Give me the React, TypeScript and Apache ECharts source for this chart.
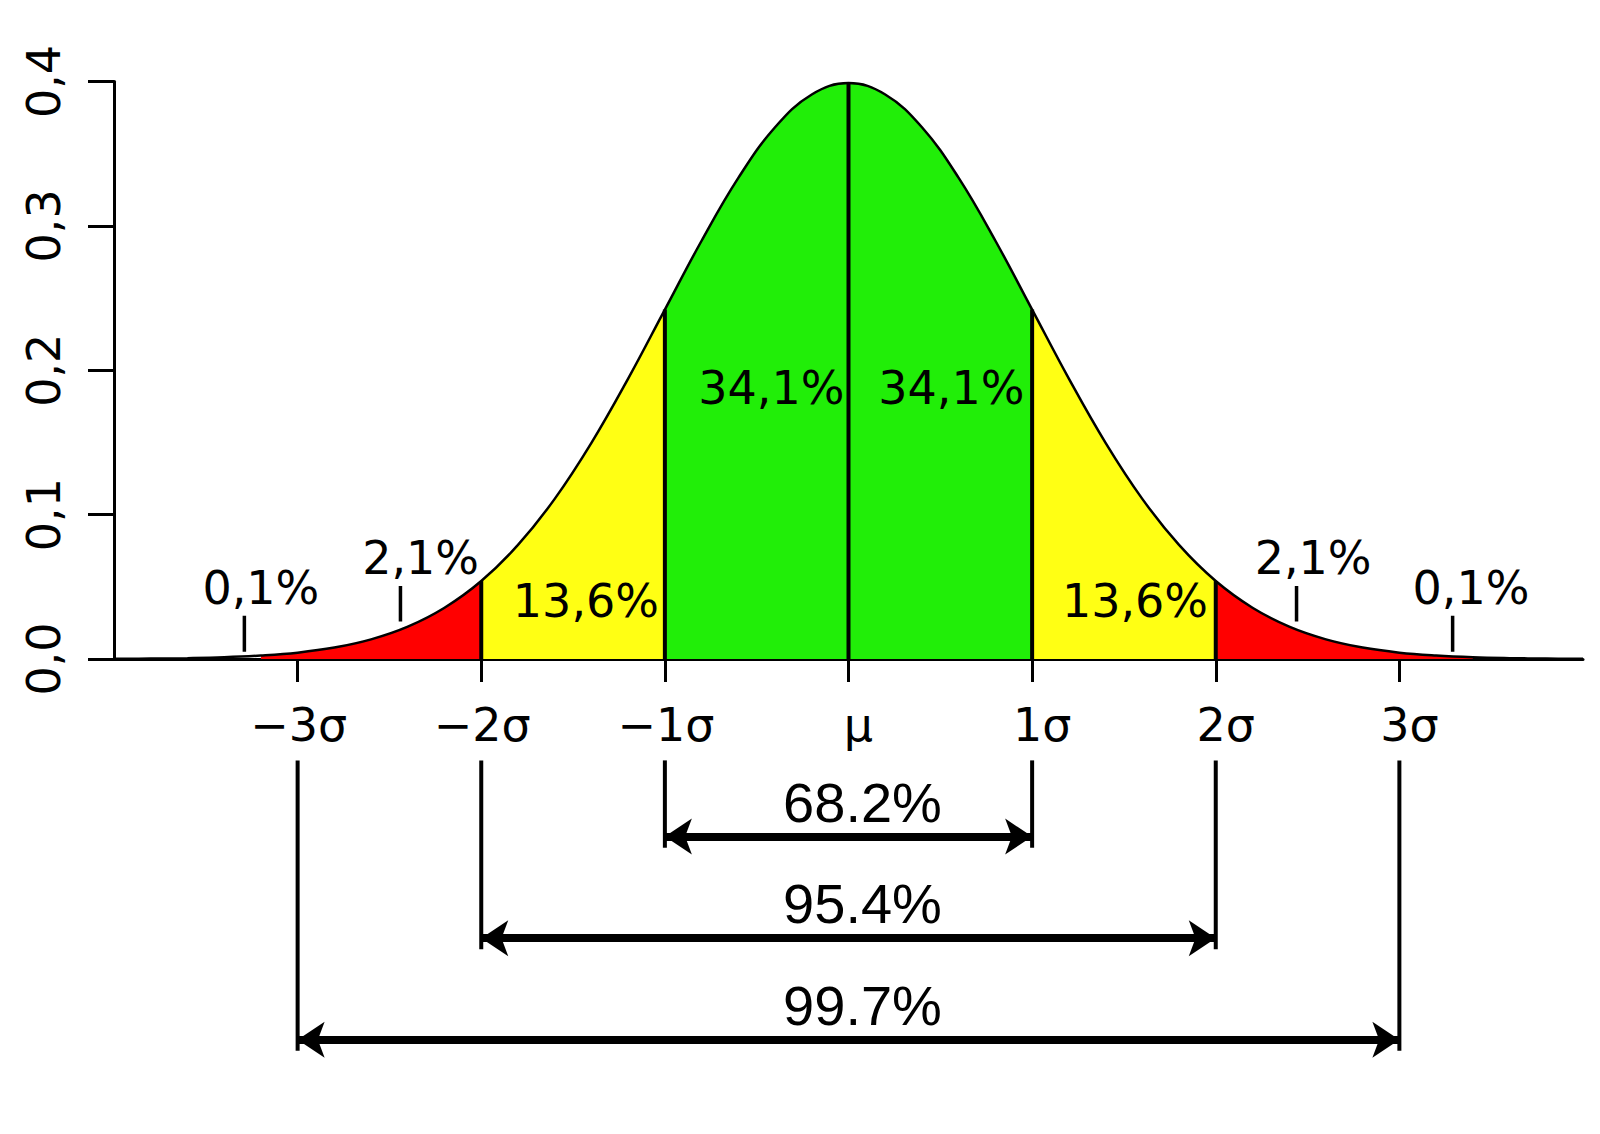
import React, { useEffect, useRef } from 'react';
import * as echarts from 'echarts';

// standard normal density, every 0.2σ
const curveX = [
  -4, -3.8, -3.6, -3.4, -3.2, -3, -2.8, -2.6, -2.4, -2.2, -2, -1.8, -1.6, -1.4, -1.2, -1, -0.8, -0.6, -0.4, -0.2,
  0, 0.2, 0.4, 0.6, 0.8, 1, 1.2, 1.4, 1.6, 1.8, 2, 2.2, 2.4, 2.6, 2.8, 3, 3.2, 3.4, 3.6, 3.8, 4,
];
const curveY = [
  0.0001, 0.0003, 0.0006, 0.0012, 0.0024, 0.0044, 0.0079, 0.0136, 0.0224, 0.0355, 0.054, 0.079, 0.1109, 0.1497,
  0.1942, 0.242, 0.2897, 0.3332, 0.3683, 0.391, 0.3989, 0.391, 0.3683, 0.3332, 0.2897, 0.242, 0.1942, 0.1497,
  0.1109, 0.079, 0.054, 0.0355, 0.0224, 0.0136, 0.0079, 0.0044, 0.0024, 0.0012, 0.0006, 0.0003, 0.0001,
];

// shaded bands under the curve
const bandStart = [-3.2, -2, -1, 1, 2];
const bandEnd = [-2, -1, 1, 2, 3.4];
const bandKind = ['tail', 'mid', 'core', 'mid', 'tail'];

// vertical dividers from the baseline up to the curve
const dividerX = [-2, -1, 0, 1, 2];

// x axis ticks
const sigmaTicks = [-3, -2, -1, 0, 1, 2, 3];
const sigmaLabels = ['\u22123σ', '\u22122σ', '\u22121σ', 'μ', '1σ', '2σ', '3σ'];

// percentage labels inside / above the curve
const areaText = ['0,1%', '2,1%', '13,6%', '34,1%', '34,1%', '13,6%', '2,1%', '0,1%'];
const areaX = [-3.2, -2.33, -1.43, -0.42, 0.56, 1.56, 2.53, 3.39];
const areaY = [0.049, 0.07, 0.04, 0.188, 0.188, 0.04, 0.07, 0.049];

// small pointer strokes under the tail labels
const pointerX = [-3.29, -2.44, 2.44, 3.29];
const pointerLow = [0.005, 0.026, 0.026, 0.005];
const pointerHigh = [0.03, 0.0505, 0.0505, 0.03];

// brackets below the axis
const bracketFrom = [-1, -2, -3];
const bracketTo = [1, 2, 3];
const bracketText = ['68.2%', '95.4%', '99.7%'];

const bandColors: Record<string, string> = {
  tail: '#ff0000',
  mid: '#ffff14',
  core: '#21ee08',
};

const FONT = 'DejaVu Sans';

const densityAt = (x: number) => curveY[curveX.indexOf(x)];

const App: React.FC = () => {
  const chartRef = useRef<HTMLDivElement>(null);

  useEffect(() => {
    if (!chartRef.current) return;
    const chart = echarts.init(chartRef.current, undefined, { renderer: 'svg' });

    const points = curveX.map((x, i) => [x, curveY[i]]);

    const bandSeries = bandStart.map((start, i) => ({
      type: 'line',
      data: points.filter(p => p[0] >= start && p[0] <= bandEnd[i]),
      smooth: 0.4,
      symbol: 'none',
      lineStyle: { width: 0 },
      areaStyle: { color: bandColors[bandKind[i]], opacity: 1 },
      z: 1,
      silent: true,
    }));

    const dividerSeries = dividerX.map(x => ({
      type: 'line',
      data: [[x, 0], [x, densityAt(x)]],
      symbol: 'none',
      lineStyle: { color: '#000', width: 4 },
      z: 4,
      silent: true,
    }));

    const pointerSeries = pointerX.map((x, i) => ({
      type: 'line',
      data: [[x, pointerLow[i]], [x, pointerHigh[i]]],
      symbol: 'none',
      lineStyle: { color: '#000', width: 3.5 },
      z: 4,
      silent: true,
    }));

    // lower grid: level 0 is just under the tick labels, each bracket one level down
    const bracketSeries: any[] = [];
    bracketFrom.forEach((from, i) => {
      const level = i + 1;
      [from, bracketTo[i]].forEach((x, k) => {
        bracketSeries.push({
          type: 'line',
          xAxisIndex: 1,
          yAxisIndex: 1,
          data: [[x, 0.25], [x, level + 0.11]],
          symbol: 'none',
          lineStyle: { color: '#000', width: 4 },
          silent: true,
          markLine:
            k === 0
              ? {
                  silent: true,
                  symbol: ['arrow', 'arrow'],
                  symbolSize: 27,
                  lineStyle: { color: '#000', width: 8, type: 'solid' },
                  label: { show: false },
                  data: [[{ coord: [from, level] }, { coord: [bracketTo[i], level] }]],
                }
              : undefined,
        });
      });
    });

    const textStyle = { color: '#000', opacity: 1, textBorderWidth: 0 };

    const option: any = {
      animation: false,
      backgroundColor: '#fff',
      grid: [
        { left: 114, right: 17, top: 81.5, bottom: 475 },
        { left: 114, right: 17, top: 735, bottom: 74 },
      ],
      xAxis: [
        {
          type: 'value',
          min: -4,
          max: 4,
          axisLine: { show: true, onZero: false, lineStyle: { color: '#000', width: 3 } },
          axisTick: {
            show: true,
            customValues: sigmaTicks,
            length: 23,
            lineStyle: { color: '#000', width: 3 },
          },
          axisLabel: {
            customValues: sigmaTicks,
            formatter: (v: number) => {
              const text = sigmaLabels[sigmaTicks.indexOf(v)] ?? '';
              return v < 0 ? `{neg|${text}}` : `{pos|${text}}`;
            },
            fontSize: 46,
            fontFamily: FONT,
            color: '#000',
            margin: 43,
            rich: {
              neg: { fontSize: 46, fontFamily: FONT, color: '#000', padding: [0, 0, 0, 2] },
              pos: { fontSize: 46, fontFamily: FONT, color: '#000', padding: [0, 0, 0, 20] },
            },
          },
          splitLine: { show: false },
        },
        { type: 'value', gridIndex: 1, min: -4, max: 4, show: false },
      ],
      yAxis: [
        {
          type: 'value',
          min: 0,
          max: 0.4,
          interval: 0.1,
          axisLine: { show: true, onZero: false, lineStyle: { color: '#000', width: 3 } },
          axisTick: { show: true, length: 26, lineStyle: { color: '#000', width: 3 } },
          axisLabel: {
            rotate: 90,
            formatter: (v: number) => v.toFixed(1).replace('.', ','),
            fontSize: 46,
            fontFamily: FONT,
            color: '#000',
            margin: 47,
          },
          splitLine: { show: false },
        },
        { type: 'value', gridIndex: 1, min: 0, max: 3.2, inverse: true, show: false },
      ],
      series: [
        ...bandSeries,
        {
          type: 'line',
          data: points,
          smooth: 0.4,
          symbol: 'none',
          lineStyle: { color: '#000', width: 2.5 },
          z: 3,
          silent: true,
        },
        ...dividerSeries,
        ...pointerSeries,
        {
          type: 'scatter',
          symbolSize: 0,
          itemStyle: { opacity: 1 },
          data: areaText.map((t, i) => ({ name: t, value: [areaX[i], areaY[i]] })),
          label: {
            show: true,
            position: 'inside',
            formatter: '{b}',
            fontSize: 46,
            fontFamily: FONT,
            ...textStyle,
          },
          z: 5,
          silent: true,
        },
        ...bracketSeries,
        {
          type: 'scatter',
          xAxisIndex: 1,
          yAxisIndex: 1,
          symbolSize: 0,
          itemStyle: { opacity: 1 },
          data: bracketText.map((t, i) => ({
            name: t,
            value: [(bracketFrom[i] + bracketTo[i]) / 2, i + 1 - 0.34],
          })),
          label: {
            show: true,
            position: 'inside',
            offset: [14, 0],
            formatter: '{b}',
            fontSize: 56,
            fontFamily: 'Liberation Sans',
            ...textStyle,
          },
          silent: true,
        },
      ],
    };

    chart.setOption(option);

    return () => {
      chart.dispose();
    };
  }, []);

  return (
    <div
      ref={chartRef}
      style={{ position: 'fixed', left: 0, top: 0, width: '1600px', height: '1134px', background: '#fff' }}
    />
  );
};

export default App;
